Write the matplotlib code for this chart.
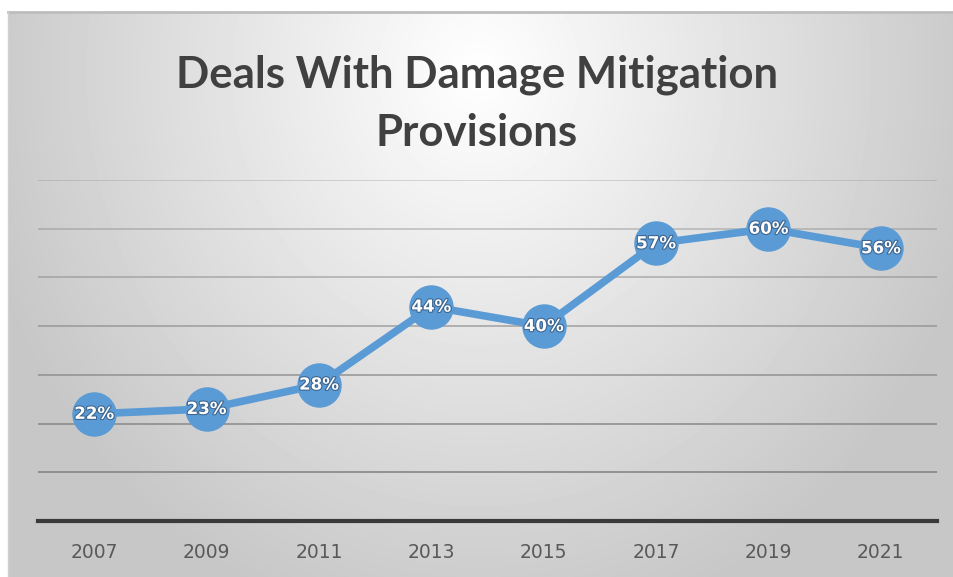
import numpy as np
import matplotlib
matplotlib.use('Agg')
import matplotlib.pyplot as plt
import matplotlib.patheffects as pe

# Chart data
years = ['2007', '2009', '2011', '2013', '2015', '2017', '2019', '2021']
share = [22, 23, 28, 44, 40, 57, 60, 56]
labels = ['22%', '23%', '28%', '44%', '40%', '57%', '60%', '56%']

blue = '#5B9BD5'

fig = plt.figure(figsize=(9.54, 5.77), dpi=100)

# Radial gradient background for the chart frame
bg = fig.add_axes([8 / 954, 0, 946 / 954, 565 / 577])
yy, xx = np.mgrid[0:565, 0:946]
r = np.sqrt(((xx - 470) / 560.0) ** 2 + ((yy - 60) / 620.0) ** 2)
shade = np.clip(1.0 - 0.24 * r, 0.78, 1.0)
bg.imshow(shade, cmap='gray', vmin=0, vmax=1, aspect='auto', interpolation='bilinear')
bg.set_axis_off()
fig.add_artist(plt.Line2D([8 / 954, 1], [1 - 12 / 577, 1 - 12 / 577], color='#bdbdbd', lw=2))
fig.add_artist(plt.Line2D([8 / 954, 8 / 954], [0, 1 - 12 / 577], color='#d0d0d0', lw=1))

# Plot area
ax = fig.add_axes([38 / 954, 1 - 521 / 577, 899 / 954, 341 / 577])
ax.patch.set_alpha(0)
x = np.arange(len(years))
ax.set_xlim(-0.5, len(years) - 0.5)
ax.set_ylim(0, 70)
for g in range(10, 80, 10):
    ax.axhline(g, color='#808080', lw=1.3, alpha=0.3 + 0.55 * (70 - g) / 60, zorder=1)
ax.plot(x, share, color=blue, lw=5.5, marker='o', markersize=31,
        markerfacecolor=blue, markeredgecolor=blue, zorder=3, solid_capstyle='round')
for xi, yi, lab in zip(x, share, labels):
    ax.text(xi, yi, lab, ha='center', va='center', color='white', fontsize=12,
            fontweight='semibold', zorder=4,
            path_effects=[pe.withStroke(linewidth=1.6, foreground='#3d6690')])

for s in ['top', 'right', 'left']:
    ax.spines[s].set_visible(False)
ax.spines['bottom'].set_color('#3a3a3a')
ax.spines['bottom'].set_linewidth(3)
ax.set_yticks([])
ax.set_xticks(x)
ax.set_xticklabels(years, color='#595959', fontsize=13.5)
ax.tick_params(axis='x', length=0, pad=16)

fig.text(0.5, 1 - 75 / 577, 'Deals With Damage Mitigation', ha='center', va='center',
         fontsize=31.5, fontweight='bold', color='#404040', family='Lato')
fig.text(0.5, 1 - 133 / 577, 'Provisions', ha='center', va='center',
         fontsize=31.5, fontweight='bold', color='#404040', family='Lato')

fig.savefig('out.png', dpi=100)
